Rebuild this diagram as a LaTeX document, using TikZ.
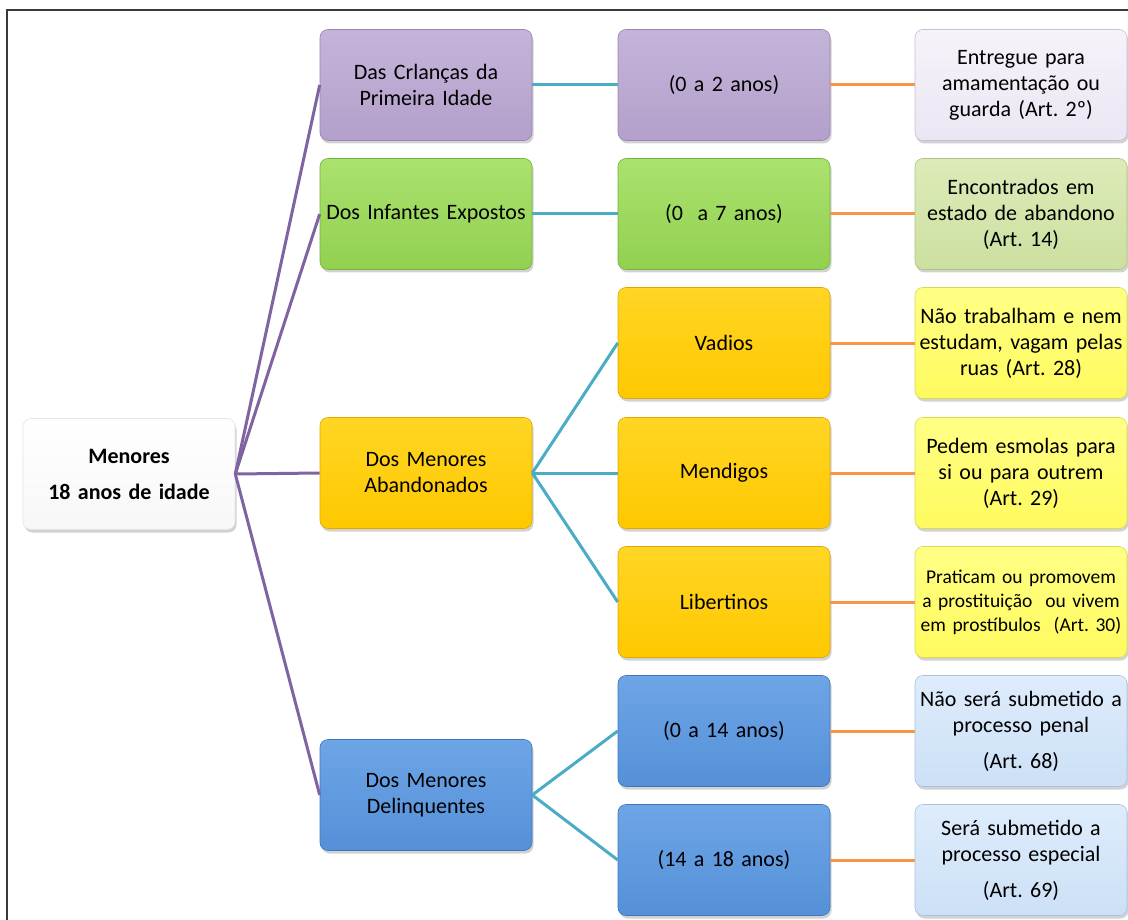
\documentclass[tikz,border=0pt]{standalone}
\usepackage{fontspec}
\setmainfont{Carlito}
\usetikzlibrary{shadows}
\newcommand{\boxfont}[2]{\fontsize{#1}{#2}\selectfont\fontdimen2\font=0.2em\fontdimen3\font=0pt\fontdimen4\font=0pt}
\definecolor{purA}{HTML}{C4B4D9}
\definecolor{purB}{HTML}{B3A0CB}
\definecolor{purD}{HTML}{9A86B3}
\definecolor{lavA}{HTML}{F6F3FA}
\definecolor{lavB}{HTML}{EBE6F3}
\definecolor{lavD}{HTML}{C9BEDA}
\definecolor{grnA}{HTML}{AAE26E}
\definecolor{grnB}{HTML}{92D050}
\definecolor{grnD}{HTML}{79B23C}
\definecolor{lgrA}{HTML}{DDEBB8}
\definecolor{lgrB}{HTML}{CCE0A0}
\definecolor{lgrD}{HTML}{AFC57F}
\definecolor{golA}{HTML}{FFD624}
\definecolor{golB}{HTML}{FFC800}
\definecolor{golD}{HTML}{E0A800}
\definecolor{yelA}{HTML}{FFFF85}
\definecolor{yelB}{HTML}{FFFA5E}
\definecolor{yelD}{HTML}{DADA50}
\definecolor{bluA}{HTML}{6DA5E6}
\definecolor{bluB}{HTML}{5590D8}
\definecolor{bluD}{HTML}{4177BA}
\definecolor{lblA}{HTML}{DEECFC}
\definecolor{lblB}{HTML}{CCE0F6}
\definecolor{lblD}{HTML}{A9C2E0}
\definecolor{lnPur}{HTML}{8064A2}
\definecolor{lnTeal}{HTML}{4BACC6}
\definecolor{lnOr}{HTML}{F79646}
\definecolor{frame}{HTML}{3A3A3A}
\tikzset{
  box/.style={rounded corners=8pt, minimum width=212pt, minimum height=111pt,
    text width=212pt, align=center, inner sep=0pt,
    font=\boxfont{22}{26}, text=black,
    drop shadow={shadow xshift=1.5pt, shadow yshift=-3pt, opacity=0.35}},
  rootbox/.style={box, top color=white, bottom color=white!94!gray, draw=white!80!gray, line width=0.6pt},
  purbox/.style={box, top color=purA, bottom color=purB, draw=purD, line width=0.6pt},
  lavbox/.style={box, top color=lavA, bottom color=lavB, draw=lavD, line width=0.6pt},
  grnbox/.style={box, top color=grnA, bottom color=grnB, draw=grnD, line width=0.6pt},
  lgrbox/.style={box, top color=lgrA, bottom color=lgrB, draw=lgrD, line width=0.6pt},
  golbox/.style={box, top color=golA, bottom color=golB, draw=golD, line width=0.6pt},
  yelbox/.style={box, top color=yelA, bottom color=yelB, draw=yelD, line width=0.6pt},
  blubox/.style={box, top color=bluA, bottom color=bluB, draw=bluD, line width=0.6pt},
  lblbox/.style={box, top color=lblA, bottom color=lblB, draw=lblD, line width=0.6pt},
  purline/.style={draw=lnPur, line width=3pt},
  tealline/.style={draw=lnTeal, line width=3pt},
  orline/.style={draw=lnOr, line width=3pt}
}
\begin{document}
\frenchspacing
\begin{tikzpicture}[x=1pt,y=1pt]
\useasboundingbox[fill=white] (0,0) rectangle (1128,-920);
\draw[frame, line width=1.6pt] (7,-920) -- (7,-10) -- (1128,-10);

% root
\node[rootbox] (root) at (129,-474) {\textbf{Menores}\\[10pt]\textbf{18 anos de idade}};

% level 1
\node[purbox] (c1) at (426,-85) {Das Crlanças da\\Primeira Idade};
\node[grnbox] (c2) at (426,-214) {Dos Infantes Expostos};
\node[golbox] (c3) at (426,-473) {Dos Menores\\Abandonados};
\node[blubox] (c4) at (426,-795) {Dos Menores\\Delinquentes};

% level 2
\node[purbox] (d1) at (724,-85) {(0 a 2 anos)};
\node[grnbox] (d2) at (724,-214) {(0\ \ a 7 anos)};
\node[golbox] (d3) at (724,-343) {Vadios};
\node[golbox] (d4) at (724,-473) {Mendigos};
\node[golbox] (d5) at (724,-602) {Libertinos};
\node[blubox] (d6) at (724,-731) {(0 a 14 anos)};
\node[blubox] (d7) at (724,-860) {(14 a 18 anos)};

% level 3
\node[lavbox] (e1) at (1021,-85) {Entregue para\\amamentação ou\\guarda (Art. 2º)};
\node[lgrbox] (e2) at (1021,-214) {Encontrados em\\estado de abandono\\(Art. 14)};
\node[yelbox] (e3) at (1021,-343) {Não trabalham e nem\\estudam, vagam pelas\\ruas (Art. 28)};
\node[yelbox] (e4) at (1021,-473) {Pedem esmolas para\\si ou para outrem\\(Art. 29)};
\node[yelbox, font=\boxfont{19.5}{24}] (e5) at (1021,-602) {Praticam ou promovem\\a prostituição\ \ ou vivem\\em prostíbulos\ \ (Art. 30)};
\node[lblbox] (e6) at (1021,-731) {Não será submetido a\\processo penal\\[10pt](Art. 68)};
\node[lblbox] (e7) at (1021,-860) {Será submetido a\\processo especial\\[10pt](Art. 69)};

% connectors
\foreach \t in {c1,c2,c3,c4} \draw[purline] (root.east) -- (\t.west);
\draw[tealline] (c1.east) -- (d1.west);
\draw[tealline] (c2.east) -- (d2.west);
\foreach \t in {d3,d4,d5} \draw[tealline] (c3.east) -- (\t.west);
\foreach \t in {d6,d7} \draw[tealline] (c4.east) -- (\t.west);
\foreach \a/\b in {d1/e1,d2/e2,d3/e3,d4/e4,d5/e5,d6/e6,d7/e7} \draw[orline] (\a.east) -- (\b.west);
\end{tikzpicture}
\end{document}
